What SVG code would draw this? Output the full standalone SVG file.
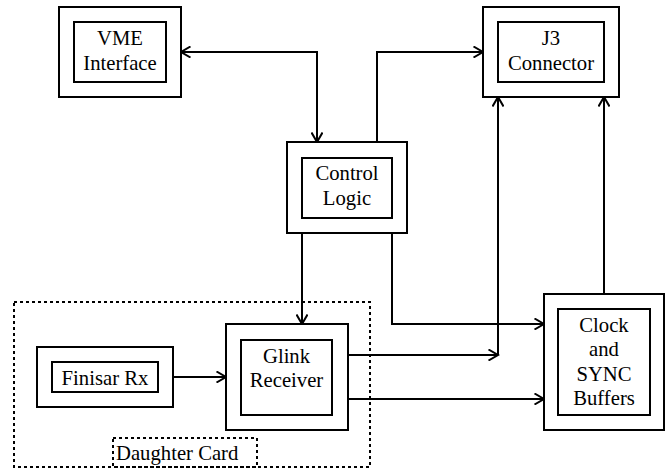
<svg xmlns="http://www.w3.org/2000/svg" width="671" height="471" viewBox="0 0 671 471">
<style>
.box{fill:#fff;stroke:#000;stroke-width:2}
.t{font-family:'Liberation Serif','Times New Roman',Times,serif;font-size:20.7px;fill:#000;text-anchor:middle}
.ts{text-anchor:start}
.ln{fill:none;stroke:#000;stroke-width:2}
.dash{fill:none;stroke:#000;stroke-width:2;stroke-dasharray:3 3}
</style>
<defs>
<marker id="ah" viewBox="0 0 12 12" refX="10" refY="6" markerWidth="12" markerHeight="12" markerUnits="userSpaceOnUse" orient="auto-start-reverse">
<path d="M0.5,0.5 L10,6 L0.5,11.5" fill="none" stroke="#000" stroke-width="2"/>
</marker>
</defs>
<g id="daughter-card">
<rect class="dash" x="14" y="302" width="356" height="165"/>
<rect class="dash" x="113" y="438" width="144" height="29"/>
<text class="t ts" x="116" y="460">Daughter Card</text>
</g>
<g id="connectors">
<path class="ln" d="M181,52 H317 V142" marker-start="url(#ah)" marker-end="url(#ah)"/>
<path class="ln" d="M377,142 V52 H483" marker-end="url(#ah)"/>
<path class="ln" d="M302,233 V324" marker-end="url(#ah)"/>
<path class="ln" d="M392,233 V324 H544" marker-end="url(#ah)"/>
<path class="ln" d="M173,377 H226" marker-end="url(#ah)"/>
<path class="ln" d="M348,355 H498" marker-end="url(#ah)"/>
<path class="ln" d="M498,355 V97" marker-end="url(#ah)"/>
<path class="ln" d="M348,399 H544" marker-end="url(#ah)"/>
<path class="ln" d="M604,294 V97" marker-end="url(#ah)"/>
</g>
<g id="vme">
<rect class="box" x="59" y="7" width="122" height="90"/>
<rect class="box" x="74" y="22" width="92" height="60"/>
<text class="t" x="120" y="45">VME</text>
<text class="t" x="120" y="70">Interface</text>
</g>
<g id="j3">
<rect class="box" x="483" y="7" width="136" height="90"/>
<rect class="box" x="498" y="22" width="106" height="60"/>
<text class="t" x="551" y="45">J3</text>
<text class="t" x="551" y="70">Connector</text>
</g>
<g id="control">
<rect class="box" x="287" y="142" width="120" height="91"/>
<rect class="box" x="302" y="158" width="90" height="60"/>
<text class="t" x="347" y="180">Control</text>
<text class="t" x="347" y="205">Logic</text>
</g>
<g id="finisar">
<rect class="box" x="37" y="347" width="136" height="60"/>
<rect class="box" x="52" y="362" width="106" height="30"/>
<text class="t" x="105" y="385">Finisar Rx</text>
</g>
<g id="glink">
<rect class="box" x="226" y="324" width="122" height="106"/>
<rect class="box" x="241" y="340" width="91" height="75"/>
<text class="t" x="286.5" y="363">Glink</text>
<text class="t" x="286.5" y="387">Receiver</text>
</g>
<g id="clock">
<rect class="box" x="544" y="294" width="120" height="136"/>
<rect class="box" x="558" y="309" width="92" height="106"/>
<text class="t" x="604" y="332">Clock</text>
<text class="t" x="604" y="356">and</text>
<text class="t" x="604" y="381">SYNC</text>
<text class="t" x="604" y="405">Buffers</text>
</g>
</svg>
